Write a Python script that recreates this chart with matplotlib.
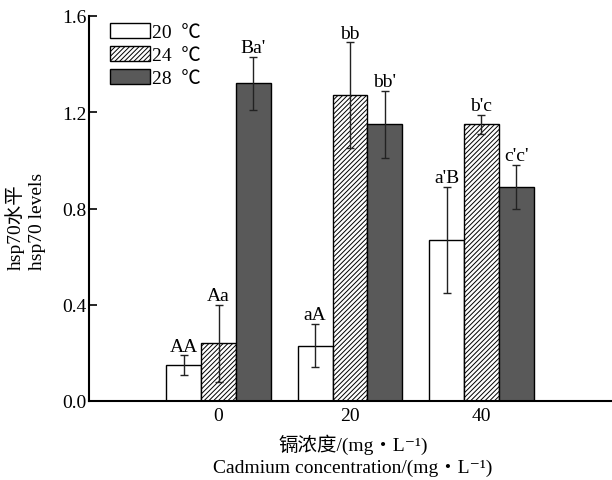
import matplotlib
matplotlib.use("Agg")
import matplotlib.pyplot as plt
import numpy as np
from matplotlib.patches import Patch

plt.rcParams['font.family'] = ['Liberation Serif', 'Noto Sans CJK SC', 'DejaVu Serif']
plt.rcParams['hatch.linewidth'] = 0.7

categories = ['0', '20', '40']
series = ['20  ℃', '24  ℃', '28  ℃']
values_20 = [0.15, 0.23, 0.67]
values_24 = [0.24, 1.27, 1.15]
values_28 = [1.32, 1.15, 0.89]
err_20 = [0.04, 0.09, 0.22]
err_24 = [0.16, 0.22, 0.04]
err_28 = [0.11, 0.14, 0.09]
labels_20 = ['AA', 'aA', "a'B"]
labels_24 = ['Aa', 'bb', "b'c"]
labels_28 = ["Ba'", "bb'", "c'c'"]
yticks = [0.0, 0.4, 0.8, 1.2, 1.6]

FS = 14
W, H = 612, 481
fig = plt.figure(figsize=(W / 100, H / 100), dpi=100)
ax = fig.add_axes([89 / W, 79 / H, (611 - 89) / W, (402 - 17) / H])

x = np.arange(len(categories))
bw = 0.266
styles = [
    dict(facecolor='white', hatch=None),
    dict(facecolor='white', hatch='///////'),
    dict(facecolor='#595959', hatch=None),
]
all_vals = [values_20, values_24, values_28]
all_errs = [err_20, err_24, err_28]
all_labs = [labels_20, labels_24, labels_28]

for i, (vals, errs, labs, st) in enumerate(zip(all_vals, all_errs, all_labs, styles)):
    pos = x + (i - 1) * bw
    ax.bar(pos, vals, width=bw, facecolor=st['facecolor'], hatch=st['hatch'],
           edgecolor='black', linewidth=1.0, zorder=2)
    ax.errorbar(pos, vals, yerr=errs, fmt='none', ecolor='#222222', elinewidth=1.0,
                capsize=3, capthick=1.0, zorder=3)
    for p, v, e, t in zip(pos, vals, errs, labs):
        ax.annotate(t, (p, v + e), xytext=(0, 0.5), textcoords='offset points',
                    ha='center', va='bottom', fontsize=FS)

ax.set_xlim(-0.985, 2.985)
ax.set_ylim(0, 1.6)
ax.set_xticks(x)
ax.set_xticklabels(categories, fontsize=FS)
ax.set_yticks(yticks)
ax.set_yticklabels([f"{t:.1f}" for t in yticks], fontsize=FS)
ax.tick_params(axis='y', direction='in', length=6, width=1.2, pad=2)
ax.tick_params(axis='x', direction='in', length=5, width=1.2, pad=4)
for s in ['top', 'right']:
    ax.spines[s].set_visible(False)
for s in ['left', 'bottom']:
    ax.spines[s].set_linewidth(1.5)

handles = [Patch(facecolor=st['facecolor'], hatch=st['hatch'], edgecolor='black', linewidth=1.0)
           for st in styles]
leg = ax.legend(handles, series, loc='upper left', bbox_to_anchor=(21 / (611 - 89), 1.0 - 7 / 385),
                frameon=False, fontsize=FS, handlelength=2.05, handleheight=0.78,
                handletextpad=0.12, labelspacing=0.26, borderaxespad=0, borderpad=0)

fig.text(353 / W, 1 - 445 / H, '镉浓度/(mg・L⁻¹)', ha='center', va='center', fontsize=FS)
fig.text(353 / W, 1 - 468 / H, 'Cadmium concentration/(mg・L⁻¹)', ha='center', va='center', fontsize=FS)
fig.text(15 / W, 1 - 270 / H, 'hsp70水平', rotation=90, ha='center', va='bottom', fontsize=FS)
fig.text(37 / W, 1 - 270 / H, 'hsp70 levels', rotation=90, ha='center', va='bottom', fontsize=FS)

fig.savefig('out.png', dpi=100)
